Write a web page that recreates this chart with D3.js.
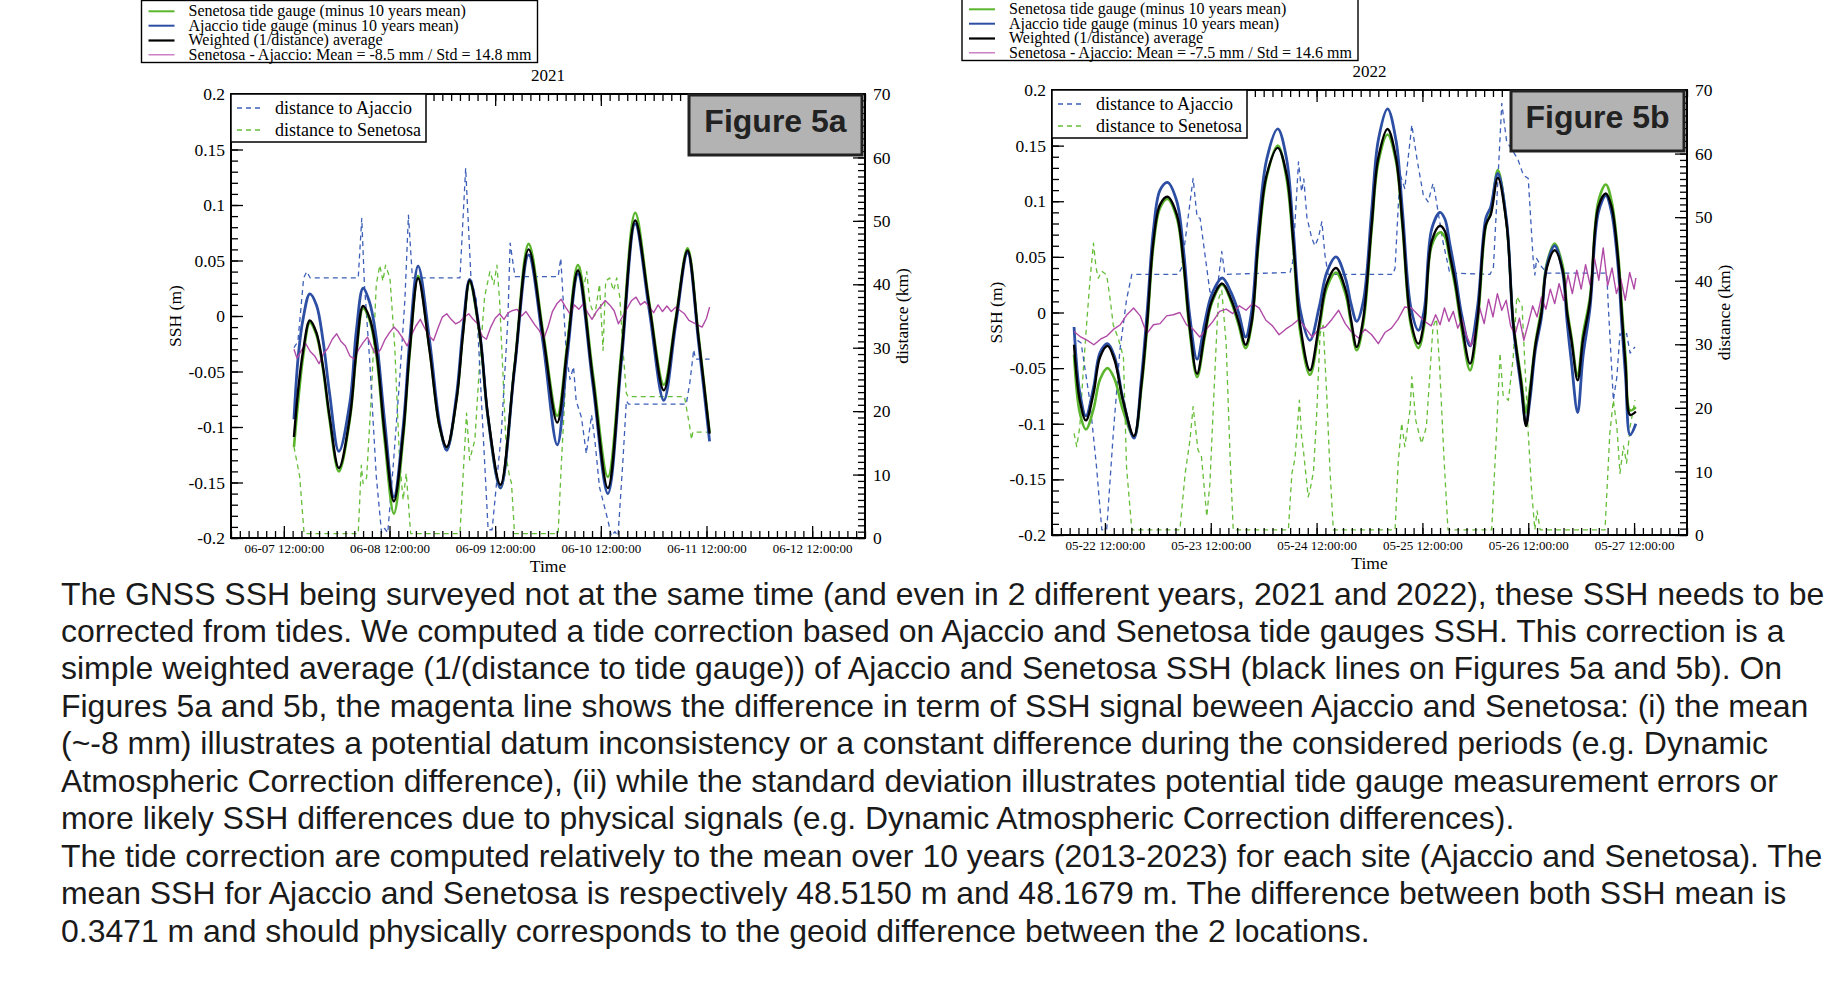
<!DOCTYPE html>
<html><head><meta charset="utf-8">
<script src="https://cdn.jsdelivr.net/npm/d3@7"></script>
<style>body{margin:0;background:#fff;} svg{display:block;}</style>
</head><body>
<svg id="c" width="1844" height="991"></svg>
<script>
// ---------------- DATA: Figure 5a (2021, hours since 2021-06-07 00:00 UTC) ----------------
const tideHoursA = [14.3,15.3,16.4,17.9,19.4,20.9,22.4,24.5,27.0,28.5,30.0,31.5,33.0,34.9,37.0,39.1,40.6,42.5,45.1,47.4,49.0,51.2,52.7,54.2,56.5,58.4,61.2,64.4,67.6,70.9,74.1,76.4,78.8,82.2,85.6,88.7,91.8,95.0,98.3,101.0,103.7,106.2,108.7];
const weightedA = [-0.109,-0.065,-0.031,-0.004,-0.015,-0.046,-0.091,-0.137,-0.091,-0.031,0.009,-0.002,-0.031,-0.106,-0.167,-0.106,-0.031,0.034,-0.031,-0.100,-0.118,-0.076,-0.016,0.032,-0.016,-0.091,-0.152,-0.046,0.060,-0.018,-0.096,-0.028,0.041,-0.057,-0.155,-0.035,0.086,0.010,-0.067,-0.004,0.059,-0.020,-0.106];
const senetosaA = [-0.118,-0.075,-0.036,-0.006,-0.017,-0.048,-0.094,-0.140,-0.093,-0.033,0.007,-0.004,-0.035,-0.112,-0.178,-0.110,-0.033,0.036,-0.030,-0.100,-0.120,-0.076,-0.015,0.030,-0.018,-0.093,-0.155,-0.045,0.065,-0.015,-0.090,-0.025,0.046,-0.052,-0.145,-0.030,0.093,0.012,-0.062,-0.002,0.061,-0.018,-0.105];
const ajaccioA = [-0.093,-0.035,-0.002,0.020,0.010,-0.022,-0.070,-0.122,-0.078,-0.012,0.025,0.012,-0.020,-0.095,-0.163,-0.100,-0.022,0.045,-0.022,-0.097,-0.121,-0.072,-0.010,0.033,-0.015,-0.092,-0.155,-0.048,0.055,-0.025,-0.116,-0.035,0.038,-0.062,-0.160,-0.040,0.083,0.005,-0.076,-0.008,0.057,-0.024,-0.113];
const diffHoursA = [14.3,15,16,17,18,19,20,21,22,23,24,25,26,27,28,29,30,31,32,33,34,35,36,37,38,39,40,41,42,43,44,45,46,47,48,49,50,51,52,53,54,55,56,57,58,59,60,61,62,63,64,65,66,67,68,69,70,71,72,73,74,75,76,77,78,79,80,81,82,83,84,85,86,87,88,89,90,91,92,93,94,95,96,97,98,99,100,101,102,103,104,105,106,107,108,108.7];
const diffA = [-0.030,
 -0.038,-0.031,-0.025,-0.032,-0.036,-0.043,-0.034,-0.029,-0.021,-0.016,
 -0.023,-0.027,-0.036,-0.039,-0.030,-0.024,-0.019,-0.028,-0.035,-0.030,
 -0.021,-0.015,-0.010,-0.014,-0.020,-0.027,-0.017,-0.009,-0.003,-0.011,
 -0.018,-0.022,-0.011,-0.001,0.002,-0.003,-0.007,-0.005,-0.001,0.002,
 -0.003,-0.007,-0.018,-0.021,-0.010,-0.002,0.002,-0.003,0.003,0.005,
 0.006,0.000,0.004,-0.002,-0.008,-0.013,-0.021,-0.010,0.004,0.011,
 0.015,0.008,0.002,0.010,0.006,0.011,0.003,-0.003,0.004,0.009,
 0.014,0.010,0.005,-0.007,0.000,0.007,0.014,0.017,0.010,0.013,
 0.008,0.003,0.010,0.004,0.009,0.004,0.008,0.005,0.002,-0.004,
 -0.006,-0.008,-0.010,-0.002,
 0.008];
const distAjHoursA = [14.3,15.2,16.5,17.2,18.0,28.9,29.7,30.3,31.5,33.0,34.2,34.9,35.6,36.8,38.3,39.5,40.3,41.2,52.0,53.3,54.5,55.7,58.4,59.3,61.4,62.9,63.4,64.5,74.3,74.9,76.2,77.0,77.8,78.4,79.6,80.7,81.9,82.7,83.7,85.6,86.4,87.2,87.9,89.0,89.8,90.3,103.4,104.2,105.1,105.5,108.7];
const distAjA = [30.0,31.0,41.0,42.0,41.0,41.0,50.4,40.0,28.0,9.7,0.8,1.5,0.8,11.0,25.0,37.6,50.9,41.0,41.0,58.3,41.0,37.6,1.3,1.3,16.5,34.7,46.5,41.2,41.2,44.1,28.6,25.0,27.0,21.6,19.0,13.3,19.4,15.0,8.0,2.8,0.3,1.0,0.3,12.0,21.6,21.1,21.1,24.4,29.7,28.2,28.2];
const distSenHoursA = [14.3,15.6,16.6,28.9,29.6,30.0,30.8,31.9,33.0,33.8,34.5,35.1,36.1,37.2,38.3,39.1,39.8,40.8,52.0,53.5,54.2,55.4,56.5,57.6,58.8,59.7,60.4,61.0,61.8,62.6,63.3,63.7,64.4,74.3,75.0,75.8,76.5,77.4,78.5,79.2,80.1,80.8,81.5,82.6,83.7,84.5,85.1,86.0,86.9,87.6,88.3,89.0,89.8,90.2,103.0,104.2,104.6,104.9,108.7];
const distSenA = [14.4,9.7,0.7,0.7,11.5,8.6,9.5,22.8,40.0,43.0,40.5,43.0,41.0,30.0,12.0,6.0,10.2,0.7,0.7,19.7,12.3,15.5,28.0,38.0,42.0,40.0,43.0,37.5,25.4,12.4,9.6,8.7,0.7,0.7,11.2,22.0,32.3,38.0,41.0,43.0,39.5,42.0,37.0,35.0,40.0,29.6,40.5,41.0,39.0,41.0,38.0,30.0,22.8,22.3,22.3,17.5,15.5,16.7,16.7];
const timeTicksA = ["2021-06-07T12:00:00Z","2021-06-08T12:00:00Z","2021-06-09T12:00:00Z","2021-06-10T12:00:00Z","2021-06-11T12:00:00Z","2021-06-12T12:00:00Z"];
const legendA = ["Senetosa tide gauge (minus 10 years mean)","Ajaccio tide gauge (minus 10 years mean)","Weighted (1/distance) average","Senetosa - Ajaccio: Mean = -8.5 mm / Std = 14.8 mm"];

// ---------------- DATA: Figure 5b (2022, hours since 2022-05-22 00:00 UTC) ----------------
const tideHoursB = [5.0,6.3,7.7,9.4,10.9,12.6,14.2,16.1,18.6,20.3,21.6,23.0,24.5,26.2,28.3,29.8,31.2,32.9,34.6,36.2,38.6,40.6,42.3,43.9,45.3,46.8,48.7,51.2,53.2,54.7,56.3,58.5,60.6,62.3,64.4,66.6,67.8,69.1,70.6,72.5,74.0,76.1,78.0,79.5,81.4,83.1,84.4,86.1,88.0,89.1,90.2,91.4,92.9,94.8,96.5,98.4,99.5,101.1,103.1,104.6,106.4,107.5,108.4,109.6,111.0,112.2,114.0,115.8,116.8,117.8,119.2,120.4,122.0,123.9,125.6,126.9,128.4,129.2,130.1,131.1,132.4];
const weightedB = [-0.029,-0.079,-0.097,-0.073,-0.040,-0.030,-0.043,-0.079,-0.111,-0.064,
 -0.008,0.064,0.097,0.104,0.088,0.046,-0.012,-0.055,-0.020,0.010,
 0.026,0.012,-0.008,-0.029,-0.008,0.064,0.124,0.148,0.124,0.064,
 -0.012,-0.052,-0.010,0.026,0.040,0.020,-0.006,-0.031,-0.005,0.079,
 0.139,0.165,0.139,0.079,-0.008,-0.028,-0.008,0.064,0.078,0.073,
 0.052,0.028,-0.010,-0.046,-0.005,0.079,0.088,0.121,0.079,-0.010,
 -0.064,-0.102,-0.073,-0.030,0.000,0.040,0.056,0.038,0.000,-0.025,
 -0.061,-0.025,0.010,0.095,0.107,0.095,0.047,0.000,-0.049,-0.092,
 -0.089];
const senetosaB = [-0.038,-0.090,-0.105,-0.087,-0.060,-0.050,-0.060,-0.088,-0.112,-0.067,
 -0.012,0.060,0.094,0.102,0.085,0.043,-0.016,-0.058,-0.023,0.008,
 0.025,0.010,-0.011,-0.032,-0.010,0.060,0.122,0.150,0.120,0.060,
 -0.018,-0.056,-0.015,0.022,0.036,0.016,-0.010,-0.034,-0.010,0.075,
 0.135,0.160,0.136,0.076,-0.012,-0.032,-0.012,0.060,0.072,0.068,
 0.048,0.024,-0.015,-0.052,-0.010,0.078,0.090,0.128,0.080,-0.008,
 -0.060,-0.090,-0.068,-0.028,0.004,0.044,0.062,0.042,0.004,-0.022,
 -0.057,-0.020,0.014,0.100,0.115,0.100,0.052,0.006,-0.042,-0.088,
 -0.085];
const ajaccioB = [-0.013,-0.072,-0.093,-0.068,-0.036,-0.028,-0.040,-0.078,-0.113,-0.058,
 0.002,0.074,0.110,0.117,0.100,0.057,-0.002,-0.042,-0.010,0.016,
 0.031,0.018,0.000,-0.022,0.002,0.075,0.138,0.165,0.138,0.075,
 0.002,-0.025,0.005,0.036,0.050,0.030,0.008,-0.008,0.010,0.092,
 0.155,0.183,0.155,0.090,0.004,-0.016,0.002,0.075,0.090,0.084,
 0.062,0.036,-0.002,-0.030,0.005,0.085,0.095,0.125,0.082,-0.012,
 -0.068,-0.100,-0.078,-0.034,-0.004,0.042,0.060,0.036,-0.008,-0.045,
 -0.090,-0.040,0.004,0.090,0.105,0.090,0.040,-0.010,-0.060,-0.110,
 -0.100];
const diffHoursB = [5,6.5,8,9.5,11,12.5,14,15.5,17,18.5,20,21.5,23,24.5,26,27.5,29,30.5,32,33.5,35,36.5,38,39.5,41,42.5,44,45.5,47,48.5,50,51.5,53,54.5,56,57.5,59,60.5,62,63.5,65,66.5,68,69.5,71,72.5,74,75.5,77,78.5,80,81.5,83,84.5,86,87,88,89,90,91,92,93,94,95,96,97,98,99,100,101,102,103,104,105,106,107,108,109,110,111,112,113,114,115,116,117,118,119,120,121,122,123,124,125,126,127,128,129,130,131,132,132.4];
const diffB = [-0.017,-0.022,-0.025,-0.029,-0.024,-0.021,-0.015,-0.011,-0.002,0.004,
 -0.003,-0.019,-0.011,-0.010,-0.003,-0.002,0.000,-0.011,-0.015,-0.022,
 -0.015,-0.008,0.001,0.003,-0.001,0.006,0.002,0.008,0.004,-0.007,
 -0.012,-0.020,-0.015,-0.011,-0.006,-0.014,-0.022,-0.015,-0.013,-0.006,
 0.002,-0.010,-0.018,-0.023,-0.015,-0.020,-0.028,-0.018,-0.014,-0.006,
 0.005,0.004,-0.002,-0.008,
 -0.012,-0.002,-0.011,0.004,-0.008,0.001,-0.014,-0.006,-0.021,-0.030,
 -0.017,0.004,-0.010,0.012,-0.004,0.017,0.002,0.011,-0.012,-0.020,
 -0.005,-0.025,-0.010,0.006,-0.004,0.014,0.003,0.021,0.008,0.026,
 0.011,0.034,0.017,0.038,0.021,0.043,0.025,0.049,0.029,0.058,
 0.024,0.040,0.017,0.030,0.011,0.036,0.021,
 0.031];
const distAjHoursB = [5.0,5.6,6.6,8.6,10.1,11.3,12.4,13.9,15.4,16.9,18.1,28.6,29.4,32.0,32.9,33.6,35.8,36.7,37.7,38.5,39.2,54.0,54.6,55.9,56.6,57.1,57.8,58.9,59.6,60.4,61.2,61.9,62.6,77.3,77.8,78.9,80.0,81.6,82.8,84.2,85.3,86.4,86.8,88.7,90.2,99.3,100.1,102.0,103.1,104.6,105.7,106.9,108.0,109.1,109.5,109.9,110.7,112.2,125.8,126.2,127.3,128.1,128.8,129.6,130.3,131.1,132.2];
const distAjB = [29.5,30.7,30.2,21.0,10.7,0.8,0.8,16.0,29.1,37.0,41.0,41.0,42.0,56.1,50.0,49.8,38.3,37.5,40.0,44.6,41.0,41.3,43.0,58.7,54.0,56.0,50.0,46.7,45.5,46.7,49.3,44.0,41.0,41.0,42.0,56.8,54.5,64.5,59.0,53.5,52.4,55.3,54.0,46.0,41.2,41.0,42.0,67.9,61.9,60.3,59.0,56.6,56.1,43.5,40.9,43.5,42.5,41.2,41.2,35.4,21.2,24.9,31.7,30.5,31.7,28.6,29.6];
const distSenHoursB = [5.0,5.6,6.3,7.1,7.9,8.6,9.4,10.0,10.5,11.3,12.4,13.2,13.9,15.0,16.2,16.9,18.1,29.0,30.2,31.3,32.0,33.1,33.9,35.1,35.8,37.0,37.7,38.5,39.5,40.4,41.1,53.6,54.4,55.1,56.1,56.6,57.0,58.1,58.5,59.3,60.0,60.8,61.5,62.3,63.0,63.8,77.8,78.5,79.3,80.0,81.2,81.6,82.5,83.8,84.9,86.4,87.2,87.9,88.9,89.8,99.7,100.8,101.6,102.3,103.5,104.6,105.4,106.6,107.3,108.0,108.8,109.5,110.0,110.7,125.4,126.5,127.3,128.1,128.8,129.6,130.3,131.1,132.2];
const distSenB = [16.0,13.9,17.0,26.0,33.6,40.0,45.9,42.0,40.4,41.5,40.9,37.0,33.0,31.0,28.0,10.7,0.8,0.8,9.7,15.0,20.2,13.4,12.3,2.9,8.0,26.5,37.0,38.5,30.0,12.0,0.8,0.8,9.7,12.0,21.2,15.5,13.4,6.0,7.0,10.0,18.6,31.7,33.0,22.0,10.7,0.8,0.8,11.3,17.6,13.9,19.7,24.9,18.0,14.4,17.0,32.8,34.0,26.5,12.0,0.8,0.8,16.0,28.6,22.0,21.2,28.0,37.5,36.0,26.0,16.0,6.6,0.8,3.8,0.8,0.8,16.0,21.2,17.0,9.7,14.0,11.3,17.0,21.2];
const timeTicksB = ["2022-05-22T12:00:00Z","2022-05-23T12:00:00Z","2022-05-24T12:00:00Z","2022-05-25T12:00:00Z","2022-05-26T12:00:00Z","2022-05-27T12:00:00Z"];
const legendB = ["Senetosa tide gauge (minus 10 years mean)","Ajaccio tide gauge (minus 10 years mean)","Weighted (1/distance) average","Senetosa - Ajaccio: Mean = -7.5 mm / Std = 14.6 mm"];

// ---------------- shared axis ticks and labels ----------------
const sshTicks = [-0.2,-0.15,-0.1,-0.05,0,0.05,0.1,0.15,0.2];
const distTicks = [0,10,20,30,40,50,60,70];
const innerLegend = ["distance to Ajaccio","distance to Senetosa"];
const paragraphLines = [
 "The GNSS SSH being surveyed not at the same time (and even in 2 different years, 2021 and 2022), these SSH needs to be",
 "corrected from tides. We computed a tide correction based on Ajaccio and Senetosa tide gauges SSH. This correction is a",
 "simple weighted average (1/(distance to tide gauge)) of Ajaccio and Senetosa SSH (black lines on Figures 5a and 5b). On",
 "Figures 5a and 5b, the magenta line shows the difference in term of SSH signal beween Ajaccio and Senetosa: (i) the mean",
 "(~-8 mm) illustrates a potential datum inconsistency or a constant difference during the considered periods (e.g. Dynamic",
 "Atmospheric Correction difference), (ii) while the standard deviation illustrates potential tide gauge measurement errors or",
 "more likely SSH differences due to physical signals (e.g. Dynamic Atmospheric Correction differences).",
 "The tide correction are computed relatively to the mean over 10 years (2013-2023) for each site (Ajaccio and Senetosa). The",
 "mean SSH for Ajaccio and Senetosa is respectively 48.5150 m and 48.1679 m. The difference between both SSH mean is",
 "0.3471 m and should physically corresponds to the geoid difference between the 2 locations."
];

// ---------------- rendering ----------------
const svg = d3.select("#c");
svg.append("rect").attr("width",1844).attr("height",991).attr("fill","#fff");
const SERIF = "'Liberation Serif','Times New Roman',serif";
const COL = {green:"#5bb52d", blue:"#2c4ea3", dblue:"#3d5fb8", dgreen:"#66bd38", mag:"#b04aa6", black:"#000"};
const series = (base, hs, vs) => d3.zip(hs, vs).map(([h, v]) => ({t: new Date(base + h * 3600000), v}));

function topLegend(x0, y0, labels) {
  const g = svg.append("g").attr("font-family", SERIF).attr("font-size", 16);
  g.append("rect").attr("x", x0).attr("y", y0).attr("width", 396).attr("height", 62)
    .attr("fill", "#fff").attr("stroke", "#000").attr("stroke-width", 1.4);
  const cols = [COL.green, COL.blue, COL.black, "#c060b8"];
  const sw = [2, 2, 2.2, 1.2];
  const rows = [10.8, 25.2, 40.0, 54.3];
  labels.forEach((s, i) => {
    g.append("line").attr("x1", x0 + 7).attr("x2", x0 + 33).attr("y1", y0 + rows[i]).attr("y2", y0 + rows[i])
      .attr("stroke", cols[i]).attr("stroke-width", sw[i]);
    g.append("text").attr("x", x0 + 47).attr("y", y0 + rows[i] + 4.8).text(s);
  });
}

function drawPanel(p) {
  const x = d3.scaleUtc().domain([p.start, p.end]).range([p.L, p.R]);
  const y = d3.scaleLinear().domain([-0.2, 0.2]).range([p.B, p.T]);
  const yd = d3.scaleLinear().domain([0, 70]).range([p.B, p.T]);
  const g = svg.append("g");
  g.append("clipPath").attr("id", "clip" + p.id).append("rect")
    .attr("x", p.L).attr("y", p.T).attr("width", p.R - p.L).attr("height", p.B - p.T);
  const plot = g.append("g").attr("clip-path", `url(#clip${p.id})`);
  const lineS = d3.line().x(d => x(d.t)).y(d => y(d.v)).curve(d3.curveCatmullRom.alpha(0.5));
  const lineM = d3.line().x(d => x(d.t)).y(d => y(d.v));
  const lineD = d3.line().x(d => x(d.t)).y(d => yd(d.v));
  const path = (d, c, w, dash) => plot.append("path").attr("d", d).attr("fill", "none").attr("stroke", c)
    .attr("stroke-width", w).attr("stroke-linejoin", "round").attr("stroke-dasharray", dash || null);
  path(lineD(series(p.base, p.senH, p.sen)), COL.dgreen, 1.3, "5,4");
  path(lineD(series(p.base, p.ajH, p.aj)), COL.dblue, 1.3, "5,4");
  path(lineS(series(p.base, p.tideH, p.grn)), COL.green, 2.6);
  path(lineS(series(p.base, p.tideH, p.blu)), COL.blue, 2.8);
  path(lineM(series(p.base, p.diffH, p.diff)), COL.mag, 1.4);
  path(lineS(series(p.base, p.tideH, p.blk)), COL.black, 2.4);

  // axes
  const majors = p.ticks.map(s => new Date(s));
  const minors = d3.utcHour.every(2).range(p.start, new Date(+p.end + 1));
  const fmtT = d3.utcFormat("%m-%d %H:%M:%S");
  const styleAxis = (sel, fs) => {
    sel.select(".domain").remove();
    sel.attr("font-family", SERIF).attr("font-size", fs);
    sel.selectAll("line").attr("stroke", "#000").attr("stroke-width", 1.3);
    sel.selectAll("text").attr("fill", "#000");
  };
  g.append("g").attr("transform", `translate(0,${p.B})`)
    .call(d3.axisBottom(x).tickValues(minors).tickSize(-7).tickFormat("")).call(s => styleAxis(s, 13));
  g.append("g").attr("transform", `translate(0,${p.B})`)
    .call(d3.axisBottom(x).tickValues(majors).tickSize(-12).tickPadding(6).tickFormat(fmtT)).call(s => styleAxis(s, 13));
  g.append("g").attr("transform", `translate(0,${p.T})`)
    .call(d3.axisTop(x).tickValues(minors).tickSize(-7).tickFormat("")).call(s => styleAxis(s, 13));
  g.append("g").attr("transform", `translate(0,${p.T})`)
    .call(d3.axisTop(x).tickValues(majors).tickSize(-12).tickFormat("")).call(s => styleAxis(s, 13));
  const fmtS = d => String(+d.toFixed(2));
  g.append("g").attr("transform", `translate(${p.L},0)`)
    .call(d3.axisLeft(y).tickValues(d3.range(-20, 21).map(i => i / 100)).tickSize(-7).tickFormat("")).call(s => styleAxis(s, 17.5));
  g.append("g").attr("transform", `translate(${p.L},0)`)
    .call(d3.axisLeft(y).tickValues(sshTicks).tickSize(-12).tickPadding(6).tickFormat(fmtS)).call(s => styleAxis(s, 17.5));
  g.append("g").attr("transform", `translate(${p.R},0)`)
    .call(d3.axisRight(yd).tickValues(d3.range(0, 71)).tickSize(-7).tickFormat("")).call(s => styleAxis(s, 17.5));
  g.append("g").attr("transform", `translate(${p.R},0)`)
    .call(d3.axisRight(yd).tickValues(distTicks).tickSize(-12).tickPadding(8).tickFormat(d => d)).call(s => styleAxis(s, 17.5));

  g.append("rect").attr("x", p.L).attr("y", p.T).attr("width", p.R - p.L).attr("height", p.B - p.T)
    .attr("fill", "none").attr("stroke", "#000").attr("stroke-width", 2);

  // titles
  const cx = (p.L + p.R) / 2, cy = (p.T + p.B) / 2;
  const t = g.append("g").attr("font-family", SERIF).attr("fill", "#000");
  t.append("text").attr("x", cx).attr("y", p.T - 13).attr("text-anchor", "middle").attr("font-size", 17).text(p.year);
  t.append("text").attr("x", cx).attr("y", p.B + 34).attr("text-anchor", "middle").attr("font-size", 17.5).text("Time");
  t.append("text").attr("transform", `translate(${p.L - 50},${cy}) rotate(-90)`).attr("text-anchor", "middle").attr("font-size", 17.5).text("SSH (m)");
  t.append("text").attr("transform", `translate(${p.R + 43},${cy}) rotate(-90)`).attr("text-anchor", "middle").attr("font-size", 17.5).text("distance (km)");

  // inner legend
  const lg = g.append("g").attr("font-family", SERIF).attr("font-size", 18);
  lg.append("rect").attr("x", p.L).attr("y", p.T).attr("width", 195).attr("height", 48)
    .attr("fill", "#fff").attr("stroke", "#000").attr("stroke-width", 1.5);
  [COL.dblue, COL.dgreen].forEach((c, i) => {
    const yy = p.T + 14 + i * 22;
    lg.append("line").attr("x1", p.L + 6).attr("x2", p.L + 33).attr("y1", yy).attr("y2", yy)
      .attr("stroke", c).attr("stroke-width", 1.3).attr("stroke-dasharray", "5,4");
    lg.append("text").attr("x", p.L + 44).attr("y", yy + 5.5).text(innerLegend[i]);
  });

  // figure label
  const fb = g.append("g");
  fb.append("rect").attr("x", p.R - 176).attr("y", p.T + 1).attr("width", 173).attr("height", 60)
    .attr("fill", "#b3b3b3").attr("stroke", "#222").attr("stroke-width", 3);
  fb.append("text").attr("x", p.R - 89.5).attr("y", p.T + 38).attr("text-anchor", "middle")
    .attr("font-family", "'Liberation Sans',Arial,sans-serif").attr("font-weight", "bold").attr("font-size", 32)
    .attr("fill", "#222").text(p.label);
}

drawPanel({id: "A", L: 231, R: 865, T: 94, B: 538, base: Date.UTC(2021, 5, 7),
  start: new Date(Date.UTC(2021, 5, 7)), end: new Date(Date.UTC(2021, 5, 13)),
  tideH: tideHoursA, blk: weightedA, grn: senetosaA, blu: ajaccioA, diffH: diffHoursA, diff: diffA,
  ajH: distAjHoursA, aj: distAjA, senH: distSenHoursA, sen: distSenA, ticks: timeTicksA, year: "2021", label: "Figure 5a"});
drawPanel({id: "B", L: 1052, R: 1687, T: 90, B: 535, base: Date.UTC(2022, 4, 22),
  start: new Date(Date.UTC(2022, 4, 22)), end: new Date(Date.UTC(2022, 4, 28)),
  tideH: tideHoursB, blk: weightedB, grn: senetosaB, blu: ajaccioB, diffH: diffHoursB, diff: diffB,
  ajH: distAjHoursB, aj: distAjB, senH: distSenHoursB, sen: distSenB, ticks: timeTicksB, year: "2022", label: "Figure 5b"});

topLegend(141.5, 0.5, legendA);
topLegend(962, -1.5, legendB);

// paragraph
const para = svg.append("g").attr("font-family", "'Liberation Sans',Arial,sans-serif").attr("fill", "#1a1a1a");
const probe = para.append("text").attr("font-size", 26).text(paragraphLines[0]);
const w0 = probe.node().getComputedTextLength();
probe.remove();
const fs = 26 * 1764 / w0;
paragraphLines.forEach((s, i) => para.append("text").attr("x", 61).attr("y", 604.5 + i * 37.45).attr("font-size", fs).text(s));
</script>
</body></html>
